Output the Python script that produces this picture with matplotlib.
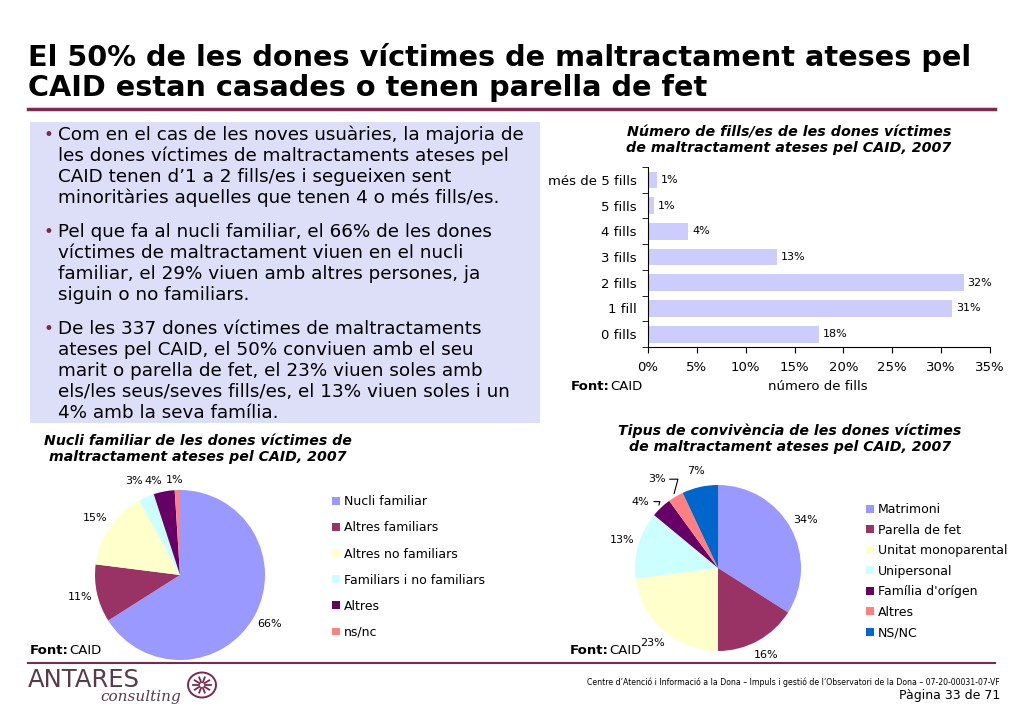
import numpy as np
import matplotlib.pyplot as plt
from matplotlib.patches import Rectangle, Ellipse
from matplotlib.lines import Line2D

W, H = 1024, 709

# --- data ---
fills_cats = ['0 fills', '1 fill', '2 fills', '3 fills', '4 fills', '5 fills', 'més de 5 fills']
fills_vals = [17.5, 31.1, 32.3, 13.2, 4.1, 0.6, 0.9]
fills_lbls = ['18%', '31%', '32%', '13%', '4%', '1%', '1%']

nucli_cats = ['Nucli familiar', 'Altres familiars', 'Altres no familiars',
              'Familiars i no familiars', 'Altres', 'ns/nc']
nucli_vals = [66, 11, 15, 3, 4, 1]

conv_cats = ['Matrimoni', 'Parella de fet', 'Unitat monoparental', 'Unipersonal',
             "Família d'orígen", 'Altres', 'NS/NC']
conv_vals = [34, 16, 23, 13, 4, 3, 7]

nucli_cols = ['#9999ff', '#993366', '#ffffcc', '#ccffff', '#660066', '#ff8080']
conv_cols = ['#9999ff', '#993366', '#ffffcc', '#ccffff', '#660066', '#ff8080', '#0066cc']

bullets = [
    ['Com en el cas de les noves usuàries, la majoria de',
     'les dones víctimes de maltractaments ateses pel',
     'CAID tenen d\u20191 a 2 fills/es i segueixen sent',
     'minoritàries aquelles que tenen 4 o més fills/es.'],
    ['Pel que fa al nucli familiar, el 66% de les dones',
     'víctimes de maltractament viuen en el nucli',
     'familiar, el 29% viuen amb altres persones, ja',
     'siguin o no familiars.'],
    ['De les 337 dones víctimes de maltractaments',
     'ateses pel CAID, el 50% conviuen amb el seu',
     'marit o parella de fet, el 23% viuen soles amb',
     'els/les seus/seves fills/es, el 13% viuen soles i un',
     '4% amb la seva família.'],
]

MAROON = '#7b2a4e'


def px(x0, y0, x1, y1):
    return [x0 / W, 1 - y1 / H, (x1 - x0) / W, (y1 - y0) / H]


def fx(x):
    return x / W


def fy(y):
    return 1 - y / H


fig = plt.figure(figsize=(W / 100, H / 100), dpi=100)
fig.patch.set_facecolor('white')

# title
fig.text(fx(28), fy(57), 'El 50% de les dones víctimes de maltractament ateses pel',
         fontsize=20.7, fontweight='bold', va='center', ha='left')
fig.text(fx(28), fy(88), 'CAID estan casades o tenen parella de fet',
         fontsize=20.7, fontweight='bold', va='center', ha='left')
fig.add_artist(Line2D([fx(28), fx(995)], [fy(109), fy(109)], color=MAROON, lw=2.5))

# text box
fig.add_artist(Rectangle((fx(30), fy(423)), fx(540) - fx(30), fy(122) - fy(423),
                         facecolor='#dcdff7', edgecolor='none', zorder=0))
y = 135
for block in bullets:
    fig.text(fx(43), fy(y), '\u2022', fontsize=12, color=MAROON, va='center')
    for line in block:
        fig.text(fx(58), fy(y), line, fontsize=13.2, va='center')
        y += 21
    y += 13

# bar chart
axb = fig.add_axes(px(648, 167, 990, 347))
ypos = np.arange(len(fills_cats))
axb.barh(ypos, fills_vals, height=0.65, color='#ccccff')
for yy, v, l in zip(ypos, fills_vals, fills_lbls):
    axb.text(v + 0.4, yy, l, va='center', fontsize=8)
axb.set_xlim(0, 35)
axb.set_ylim(-0.5, len(fills_cats) - 0.5)
axb.set_xticks(np.arange(0, 36, 5))
axb.set_xticklabels([f'{t}%' for t in range(0, 36, 5)], fontsize=9.5)
axb.set_yticks(ypos)
axb.set_yticklabels(fills_cats, fontsize=9.5)
axb.set_yticks(np.arange(-0.5, len(fills_cats)), minor=True)
axb.tick_params(axis='y', which='major', length=0, pad=8)
axb.tick_params(axis='y', which='minor', length=4, direction='out')
axb.tick_params(axis='x', length=4, direction='out', pad=6)
for s in ['top', 'right']:
    axb.spines[s].set_visible(False)
fig.text(fx(789), fy(132), 'Número de fills/es de les dones víctimes', fontsize=10.3,
         fontweight='bold', style='italic', ha='center', va='center')
fig.text(fx(789), fy(148), 'de maltractament ateses pel CAID, 2007', fontsize=10.3,
         fontweight='bold', style='italic', ha='center', va='center')
fig.text(fx(818), fy(387), 'número de fills', fontsize=9.5, ha='center', va='center')

# pie 1
axp1 = fig.add_axes(px(95, 490, 265, 660))
w1, _ = axp1.pie(nucli_vals, colors=nucli_cols, startangle=90, counterclock=False,
                 wedgeprops=dict(linewidth=0))
axp1.set_xlim(-1, 1)
axp1.set_ylim(-1, 1)
lbl1_dist = [1.2, 1.2, 1.2, 1.2, 1.13, 1.12]
lbl1_dx = [0, 0, 0, -0.06, -0.1, -0.03]
for wd, v, d, dx in zip(w1, nucli_vals, lbl1_dist, lbl1_dx):
    ang = np.deg2rad((wd.theta1 + wd.theta2) / 2)
    axp1.text(d * np.cos(ang) + dx, d * np.sin(ang), f'{v}%', ha='center', va='center',
              fontsize=8)
axp1.set_aspect('equal')
axp1.legend(w1, nucli_cats, loc='upper left', bbox_to_anchor=(fx(321), fy(484)),
            bbox_transform=fig.transFigure, frameon=False, fontsize=9,
            labelspacing=1.05, handlelength=0.6, handleheight=0.6, handletextpad=0.3)
fig.text(fx(198), fy(441), 'Nucli familiar de les dones víctimes de', fontsize=10.2,
         fontweight='bold', style='italic', ha='center', va='center')
fig.text(fx(198), fy(457), 'maltractament ateses pel CAID, 2007', fontsize=10.2,
         fontweight='bold', style='italic', ha='center', va='center')

# pie 2
axp2 = fig.add_axes(px(635, 485, 801, 651))
w2, _ = axp2.pie(conv_vals, colors=conv_cols, startangle=90, counterclock=False,
                 wedgeprops=dict(linewidth=0))
axp2.set_xlim(-1, 1)
axp2.set_ylim(-1, 1)
leader_txt = {4: (-0.93, 0.8), 5: (-0.74, 1.07)}
for i, (wd, v) in enumerate(zip(w2, conv_vals)):
    ang = np.deg2rad((wd.theta1 + wd.theta2) / 2)
    if i in leader_txt:
        edge = (1.04 * np.cos(ang), 1.04 * np.sin(ang))
        axp2.annotate(f'{v}%', xy=edge, xytext=leader_txt[i], ha='center', va='center',
                      fontsize=8, arrowprops=dict(arrowstyle='-', color='black', lw=0.8,
                                                  relpos=(1, 0.5), shrinkA=1, shrinkB=0,
                                                  connectionstyle='angle,angleA=0,angleB=75,rad=0'))
    else:
        axp2.text(1.2 * np.cos(ang), 1.2 * np.sin(ang), f'{v}%', ha='center', va='center',
                  fontsize=8)
axp2.set_aspect('equal')
axp2.legend(w2, conv_cats, loc='upper left', bbox_to_anchor=(fx(855), fy(492)),
            bbox_transform=fig.transFigure, frameon=False, fontsize=9,
            labelspacing=0.6, handlelength=0.6, handleheight=0.6, handletextpad=0.3)
fig.text(fx(790), fy(431), 'Tipus de convivència de les dones víctimes', fontsize=10.2,
         fontweight='bold', style='italic', ha='center', va='center')
fig.text(fx(790), fy(447), 'de maltractament ateses pel CAID, 2007', fontsize=10.2,
         fontweight='bold', style='italic', ha='center', va='center')

# sources
for x0, y0 in [(571, 387), (30, 651), (570, 651)]:
    fig.text(fx(x0), fy(y0), 'Font:', fontsize=9.5, fontweight='bold', va='center')
    fig.text(fx(x0 + 39), fy(y0), 'CAID', fontsize=9.5, va='center')

# footer
fig.add_artist(Line2D([fx(28), fx(995)], [fy(663), fy(663)], color=MAROON, lw=1.5))
fig.text(fx(28), fy(680), 'ANTARES', fontsize=17.5, color='#5a3a4a', va='center')
fig.text(fx(100), fy(697), 'consulting', fontsize=11, color='#5a3a4a', va='center',
         family='serif', style='italic')
cx, cy = 202, 685
fig.add_artist(Ellipse((fx(cx), fy(cy)), 28 / W, 25 / H, transform=fig.transFigure,
                       facecolor='none', edgecolor=MAROON, lw=1.4))
for a in np.linspace(0, 2 * np.pi, 10, endpoint=False):
    fig.add_artist(Line2D([fx(cx + 3 * np.cos(a)), fx(cx + 9 * np.cos(a))],
                          [fy(cy + 3 * np.sin(a)), fy(cy + 8 * np.sin(a))],
                          color=MAROON, lw=1.3))
fig.text(fx(1000), fy(682), 'Centre d\u2019Atenció i Informació a la Dona \u2013 Impuls i gestió de l\u2019Observatori de la Dona \u2013 07-20-00031-07-VF',
         fontsize=5.6, ha='right', va='center')
fig.text(fx(1000), fy(696), 'Pàgina 33 de 71', fontsize=9, ha='right', va='center')

fig.savefig('out.png', dpi=100)
